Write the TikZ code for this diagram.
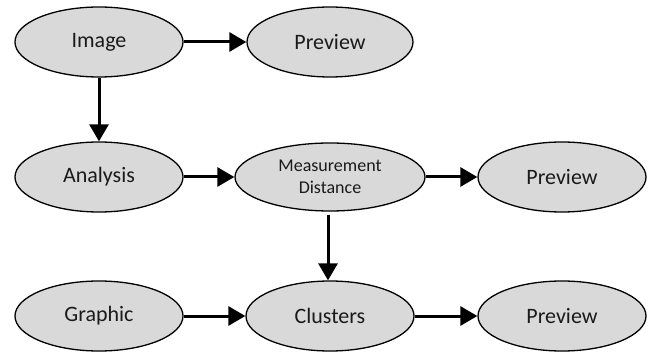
\documentclass[tikz,border=0pt]{standalone}
\usepackage{fontspec}
\setmainfont{Carlito}
\usetikzlibrary{shapes.geometric,arrows.meta}
\definecolor{bubblefill}{HTML}{D9D9D9}
\definecolor{inkdark}{HTML}{1A1A1A}
\tikzset{
  bubble/.style={ellipse, draw=black, line width=1.3pt, fill=bubblefill,
    inner sep=0pt, minimum width=168pt, minimum height=70pt,
    font=\fontsize{22}{26}\selectfont, text=inkdark, align=center},
  smallbubble/.style={bubble, minimum width=190pt, minimum height=68pt,
    font=\fontsize{18}{22}\selectfont},
  flow/.style={line width=3pt, -{Triangle[length=17pt,width=19pt]}}
}
\begin{document}
\begin{tikzpicture}[x=1pt,y=-1pt]
  \useasboundingbox (0,0) rectangle (652,352);
  % top row
  \node[bubble] (image) at (99,42) {Image};
  \node[bubble, minimum width=166pt] (prev1) at (330,42) {Preview};
  % middle row
  \node[bubble] (analysis) at (99,177) {Analysis};
  \node[smallbubble] (measure) at (330,177) {Measurement\\Distance};
  \node[bubble] (prev2) at (562,177) {Preview};
  % bottom row
  \node[bubble] (graphic) at (99,316) {Graphic};
  \node[bubble] (clusters) at (330,316) {Clusters};
  \node[bubble] (prev3) at (562,316) {Preview};
  % connectors
  \draw[flow] (image) -- (prev1);
  \draw[flow] (image) -- (analysis);
  \draw[flow] (analysis) -- (measure);
  \draw[flow] (measure) -- (prev2);
  \draw[flow, shorten <=3pt] (measure.south -| clusters.north) ++(-2,0) coordinate (mdrop) -- (mdrop |- clusters.north);
  \draw[flow] (graphic) -- (clusters);
  \draw[flow] (clusters) -- (prev3);
\end{tikzpicture}
\end{document}
